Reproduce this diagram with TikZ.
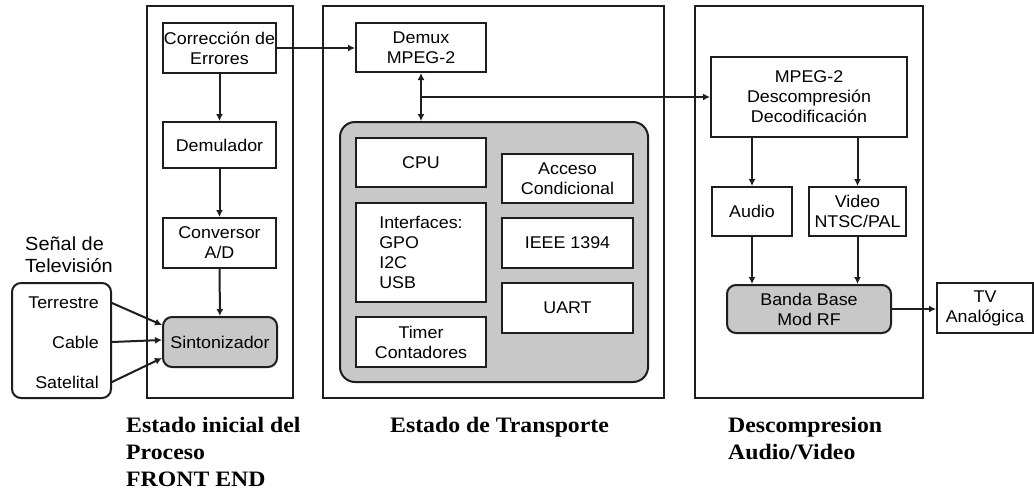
\documentclass[tikz,border=0pt]{standalone}
\usepackage{fontspec}
\setmainfont{Liberation Sans}[FakeStretch=1.05]
\newfontfamily\capfont{Liberation Serif}[FakeStretch=1.08]
\usetikzlibrary{arrows.meta,calc}
\definecolor{linec}{RGB}{30,30,30}
\definecolor{grayf}{RGB}{200,200,200}
\begin{document}
\begin{tikzpicture}[x=1pt,y=-1pt,
  panel/.style={draw=linec, line width=2.4pt, inner sep=0pt},
  box/.style={draw=linec, line width=2pt, fill=white, inner sep=0pt, align=center,
    font=\fontsize{17}{20}\selectfont, text=black},
  gbox/.style={box, fill=grayf, rounded corners=9pt},
  plain/.style={inner sep=0pt, font=\fontsize{17}{20}\selectfont, text=black},
  arr/.style={draw=linec, line width=2pt, -{Latex[length=7pt,width=7pt]}},
  barr/.style={draw=linec, line width=2pt, {Latex[length=7pt,width=7pt]}-{Latex[length=7pt,width=7pt]}},
  lbl/.style={inner sep=0pt, anchor=north west, align=left,
    font=\capfont\bfseries\fontsize{22}{27}\selectfont}
]
\useasboundingbox (0,0) rectangle (1034,491);
\fill[white] (0,0) rectangle (1034,491);

% panels
\node[panel, minimum width=146pt, minimum height=392pt] (p1) at (220,202) {};
\node[panel, minimum width=341pt, minimum height=392pt] (p2) at (493.5,202) {};
\node[panel, minimum width=228pt, minimum height=392pt] (p3) at (809,202) {};

% front end
\node[box, minimum width=113pt, minimum height=50pt] (corr) at (219.5,48) {Corrección de\\Errores};
\node[box, minimum width=113pt, minimum height=46pt] (demul) at (219.5,145) {Demulador};
\node[box, minimum width=113pt, minimum height=50pt] (conv) at (219.5,243) {Conversor\\A/D};
\node[gbox, minimum width=114pt, minimum height=50pt] (sint) at (220,342) {Sintonizador};

% source
\node[plain, anchor=north west, align=left, font=\fontsize{19}{22}\selectfont] (senal) at (25,237) {Señal de\\Televisión};
\node[box, rounded corners=9pt, minimum width=99pt, minimum height=115pt] (src) at (61.5,340.5) {};
\node[plain, anchor=east] (terr) at (99,303) {Terrestre};
\node[plain, anchor=east] (cab) at (99,342) {Cable};
\node[plain, anchor=east] (sat) at (99,382) {Satelital};

% transport
\node[box, minimum width=130pt, minimum height=49pt] (demux) at (421,47.5) {Demux\\MPEG-2};
\node[gbox, rounded corners=15pt, minimum width=308pt, minimum height=260pt] (core) at (494,252) {};
\node[box, minimum width=130pt, minimum height=49pt] (cpu) at (421,162.5) {CPU};
\node[box, minimum width=130pt, minimum height=99pt, align=left] (intf) at (421,252.5) {Interfaces:\\GPO\\I2C\\USB};
\node[box, minimum width=130pt, minimum height=50pt] (timer) at (421,342) {Timer\\Contadores};
\node[box, minimum width=131pt, minimum height=49pt] (acc) at (567.5,178.5) {Acceso\\Condicional};
\node[box, minimum width=131pt, minimum height=50pt] (ieee) at (567.5,243) {IEEE 1394};
\node[box, minimum width=131pt, minimum height=50pt] (uart) at (567.5,308) {UART};

% decompression
\node[box, minimum width=196pt, minimum height=80pt] (mpeg) at (809,97) {MPEG-2\\Descompresión\\Decodificación};
\node[box, minimum width=80pt, minimum height=49pt] (audio) at (752,211.5) {Audio};
\node[box, minimum width=97pt, minimum height=49pt] (video) at (857.5,211.5) {Video\\NTSC/PAL};
\node[gbox, minimum width=164pt, minimum height=48pt] (banda) at (809,309) {Banda Base\\Mod RF};
\node[box, minimum width=96pt, minimum height=50pt] (tv) at (985,308) {TV\\Analógica};

% connectors
\draw[arr] (corr.east) -- (corr.east -| demux.west);
\draw[arr] (corr) -- (demul);
\draw[arr] (demul) -- (conv);
\draw[arr] (conv) -- (sint);
\draw[arr] (terr.east -| src.east) -- ([yshift=17pt]sint.west);
\draw[arr] (cab.east -| src.east) -- ([yshift=2pt]sint.west);
\draw[arr] (sat.east -| src.east) -- ([yshift=-16pt]sint.west);
\draw[barr] (demux.south) -- (demux.south |- core.north);
\coordinate (bus) at (demux.south |- mpeg.west);
\draw[arr] (bus) -- (mpeg.west);
\draw[arr] (audio.north |- mpeg.south) -- (audio.north);
\draw[arr] (video.north |- mpeg.south) -- (video.north);
\draw[arr] (audio.south) -- (audio.south |- banda.north);
\draw[arr] (video.south) -- (video.south |- banda.north);
\draw[arr] (banda.east) -- (banda.east -| tv.west);

% captions
\node[lbl] (c1) at (126,417) {Estado inicial del\\Proceso\\FRONT END};
\node[lbl] (c2) at (390,417) {Estado de Transporte};
\node[lbl] (c3) at (728,417) {Descompresion\\Audio/Video};
\end{tikzpicture}
\end{document}
